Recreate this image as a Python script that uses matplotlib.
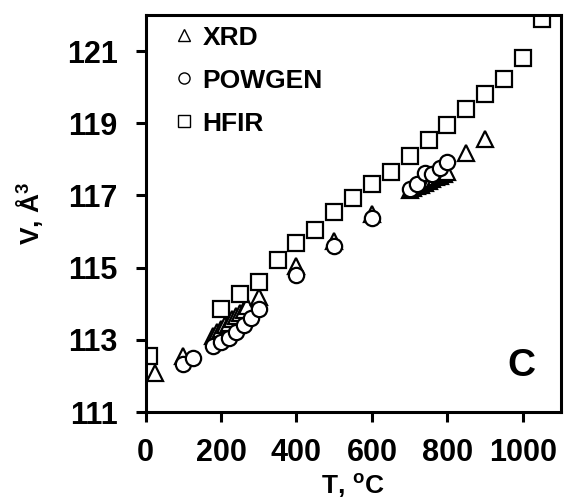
import matplotlib
matplotlib.use("Agg")
import matplotlib.pyplot as plt
from matplotlib.lines import Line2D

plt.rcParams['font.family'] = ['Liberation Sans', 'DejaVu Sans']
plt.rcParams['font.weight'] = 'bold'
plt.rcParams['mathtext.fontset'] = 'custom'
plt.rcParams['mathtext.rm'] = 'Liberation Sans:bold'
plt.rcParams['mathtext.bf'] = 'Liberation Sans:bold'

# Unit-cell volume vs temperature
xrd_T = [25, 100, 180, 190, 200, 210, 220, 230, 240, 250, 260, 270, 300,
         400, 500, 600, 700, 710, 720, 730, 740, 750, 760, 770, 780, 790, 800,
         850, 900]
xrd_V = [112.07, 112.54, 113.12, 113.22, 113.30, 113.40, 113.48, 113.57, 113.66,
         113.75, 113.84, 113.93, 114.20, 115.05, 115.75, 116.50, 117.15, 117.20,
         117.25, 117.30, 117.35, 117.40, 117.45, 117.50, 117.55, 117.60, 117.65,
         118.19, 118.56]

powgen_T = [100, 125, 180, 200, 220, 240, 260, 280, 300, 400, 500, 600,
            700, 720, 740, 760, 780, 800]
powgen_V = [112.32, 112.50, 112.82, 112.93, 113.06, 113.23, 113.42, 113.60, 113.85,
            114.80, 115.60, 116.38, 117.17, 117.33, 117.61, 117.60, 117.77, 117.94]

hfir_T = [10, 200, 250, 300, 350, 400, 450, 500, 550, 600, 650, 700, 750,
          800, 850, 900, 950, 1000, 1050]
hfir_V = [112.54, 113.85, 114.28, 114.60, 115.20, 115.69, 116.03, 116.55, 116.93,
          117.33, 117.66, 118.09, 118.54, 118.96, 119.40, 119.80, 120.22, 120.80,
          121.90]

x_ticks = [0, 200, 400, 600, 800, 1000]
y_ticks = [111, 113, 115, 117, 119, 121]

fig = plt.figure(figsize=(5.64, 5.01), dpi=100)
ax = fig.add_axes([0.258, 0.1776, 0.736, 0.7924])

mk = dict(linestyle='none', markerfacecolor='white', markeredgecolor='black',
          markersize=11, markeredgewidth=1.6)
ax.plot(xrd_T, xrd_V, marker='^', **mk)
ax.plot(powgen_T, powgen_V, marker='o', **mk)
ax.plot(hfir_T, hfir_V, marker='s', **mk)

ax.set_xlim(0, 1100)
ax.set_ylim(111, 122)
ax.set_xticks(x_ticks)
ax.set_yticks(y_ticks)
ax.tick_params(axis='both', direction='out', length=7, width=2.2,
               labelsize=22)
ax.tick_params(axis='x', pad=12)
ax.tick_params(axis='y', pad=13)
for lab in ax.get_xticklabels() + ax.get_yticklabels():
    lab.set_fontweight('bold')
for sp in ax.spines.values():
    sp.set_linewidth(2.2)

ax.set_xlabel(r'T, $^{\mathbf{o}}$C', fontsize=19, fontweight='bold', labelpad=2)
ax.set_ylabel(r'V, Å$^{\mathbf{3}}$', fontsize=19, fontweight='bold', labelpad=15)

hmk = dict(linestyle='none', markerfacecolor='white', markeredgecolor='black',
           markersize=8, markeredgewidth=1.0)
handles = [Line2D([], [], marker='^', **hmk),
           Line2D([], [], marker='o', **hmk),
           Line2D([], [], marker='s', **hmk)]
ax.legend(handles, ['XRD', 'POWGEN', 'HFIR'], loc='upper left',
          bbox_to_anchor=(0.045, 1.0), frameon=False, handlelength=0.7,
          handletextpad=0.35, labelspacing=0.72, borderaxespad=0,
          prop={'family': 'Liberation Sans', 'weight': 'bold', 'size': 19})

ax.text(0.906, 0.116, 'C', transform=ax.transAxes, ha='center', va='center',
        fontsize=28, fontweight='bold')

fig.savefig('out.png', dpi=100)
